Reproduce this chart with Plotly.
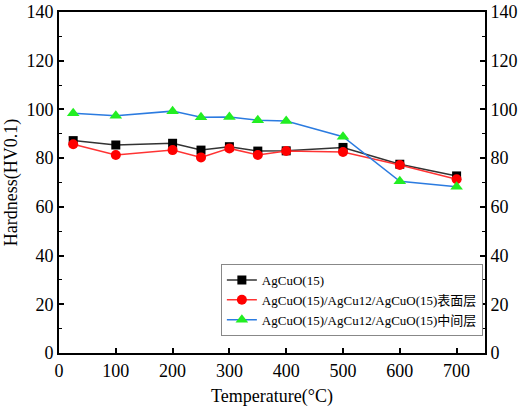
import plotly.graph_objects as go

temps = [25, 100, 200, 250, 300, 350, 400, 500, 600, 700]
agcuo = [87.2, 85.4, 86.1, 83.3, 84.7, 82.9, 83.0, 84.4, 77.5, 72.7]
surface = [85.7, 81.3, 83.3, 80.3, 84.0, 81.3, 82.9, 82.5, 77.2, 71.3]
middle = [98.4, 97.4, 99.3, 96.8, 96.9, 95.6, 95.2, 88.8, 70.5, 68.3]
names = ["AgCuO(15)", "AgCuO(15)/AgCu12/AgCuO(15)表面层", "AgCuO(15)/AgCu12/AgCuO(15)中间层"]
xticks = [0, 100, 200, 300, 400, 500, 600, 700]
yticks = [0, 20, 40, 60, 80, 100, 120, 140]

FONT = "Liberation Serif, Times New Roman, Noto Sans CJK SC"

fig = go.Figure()
fig.add_trace(go.Scatter(x=temps, y=agcuo, name=names[0], mode="lines+markers",
                         line=dict(color="#333333", width=1.5),
                         marker=dict(symbol="square", size=9, color="black")))
fig.add_trace(go.Scatter(x=temps, y=surface, name=names[1], mode="lines+markers",
                         line=dict(color="#ff3333", width=1.5),
                         marker=dict(symbol="circle", size=10, color="red")))
fig.add_trace(go.Scatter(x=temps, y=middle, name=names[2], mode="lines+markers",
                         line=dict(color="#2b7be0", width=1.5),
                         marker=dict(symbol="triangle-up", size=11, color="#22ee22")))
fig.add_trace(go.Scatter(x=[temps[0]], y=[agcuo[0]], yaxis="y2", mode="markers",
                         marker=dict(opacity=0), showlegend=False, hoverinfo="skip"))

axis_common = dict(showline=True, linecolor="black", linewidth=2, ticks="inside",
                   ticklen=5, tickwidth=2, tickcolor="black", showgrid=False, zeroline=False,
                   automargin=False,
                   tickfont=dict(family=FONT, size=18, color="black"))

fig.update_layout(
    width=520, height=410,
    margin=dict(l=59, r=35, t=12, b=57),
    paper_bgcolor="white", plot_bgcolor="white",
    font=dict(family=FONT, color="black"),
    xaxis=dict(range=[0, 750], tickvals=xticks, mirror=True,
               title=dict(text="Temperature(°C)", font=dict(family=FONT, size=18), standoff=10),
               **axis_common),
    yaxis=dict(range=[0, 140], tickvals=yticks,
               minor=dict(ticks="inside", ticklen=3, tickwidth=1, tickcolor="black", dtick=10),
               title=dict(text="Hardness(HV0.1)", font=dict(family=FONT, size=18), standoff=4),
               **axis_common),
    yaxis2=dict(range=[0, 140], tickvals=yticks, overlaying="y", side="right",
                minor=dict(ticks="inside", ticklen=3, tickwidth=1, tickcolor="black", dtick=10),
                **axis_common),
    legend=dict(x=0.995, xanchor="right", y=0.05, yanchor="bottom",
                bgcolor="white", bordercolor="#888888", borderwidth=1,
                font=dict(family=FONT, size=13, color="black"),
                tracegroupgap=0, itemwidth=30),
    showlegend=True,
)

fig.write_html("out.html", config={"displayModeBar": False},
               post_script="document.body.style.margin='0';document.body.style.overflow='hidden';")
